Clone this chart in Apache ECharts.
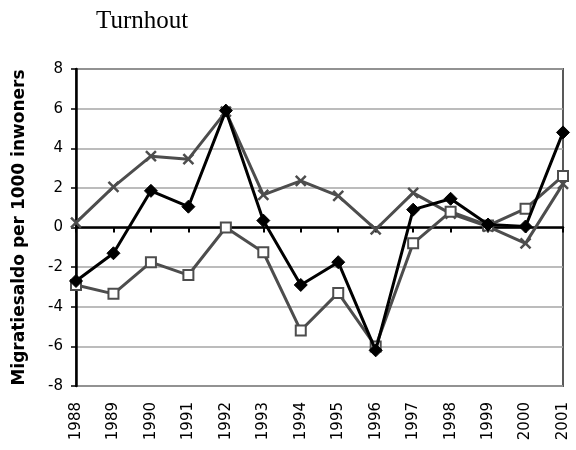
<!DOCTYPE html>
<html><head><meta charset="utf-8">
<script src="https://cdn.jsdelivr.net/npm/echarts@6/dist/echarts.min.js"></script>
<style>html,body{margin:0;padding:0;background:#fff}#c{width:576px;height:450px}</style>
</head><body><div id="c"></div>
<script>
var years = ['1988','1989','1990','1991','1992','1993','1994','1995','1996','1997','1998','1999','2000','2001'];
var seriesDiamond = [-2.7, -1.3, 1.85, 1.05, 5.9, 0.35, -2.9, -1.75, -6.2, 0.9, 1.45, 0.15, 0.05, 4.8];
var seriesSquare = [-2.9, -3.35, -1.75, -2.4, 0.0, -1.25, -5.2, -3.3, -6.0, -0.8, 0.8, 0.1, 0.95, 2.6];
var seriesCross = [0.25, 2.05, 3.6, 3.45, 5.85, 1.65, 2.35, 1.6, -0.1, 1.75, 0.7, 0.05, -0.8, 2.2];
var yTicks = [-8, 8, 2];

var chart = echarts.init(document.getElementById('c'), null, {renderer: 'canvas'});
var crossPath = 'path://M0,0L10,10M10,0L0,10';
chart.setOption({
  animation: false,
  title: {text: 'Turnhout', left: 91, top: 4, textStyle: {fontFamily: 'Liberation Serif', fontWeight: 'normal', fontSize: 25, color: '#000'}},
  grid: {left: 76, right: 13, top: 69, bottom: 64, show: true, borderColor: '#595959', borderWidth: 2},
  xAxis: [{
    type: 'category', data: years, boundaryGap: false,
    axisLine: {onZero: true, lineStyle: {color: '#000', width: 2.5}},
    axisTick: {show: true, inside: false, length: 5, lineStyle: {color: '#000', width: 2}},
    axisLabel: {show: false}, splitLine: {show: false}
  }, {
    type: 'category', data: years, boundaryGap: false, position: 'bottom',
    axisLine: {show: false, onZero: false}, axisTick: {show: false},
    axisLabel: {rotate: 90, fontFamily: 'DejaVu Sans', fontSize: 15, color: '#000', margin: 16, interval: 0},
    splitLine: {show: false}
  }],
  yAxis: {
    type: 'value', min: yTicks[0], max: yTicks[1], interval: yTicks[2],
    name: 'Migratiesaldo per 1000 inwoners', nameLocation: 'middle', nameGap: 48, nameRotate: 90,
    nameTextStyle: {fontFamily: 'DejaVu Sans', fontWeight: 'bold', fontSize: 17, color: '#000'},
    axisLine: {show: true, lineStyle: {color: '#000', width: 2.5}},
    axisTick: {show: true, length: 5, lineStyle: {color: '#000', width: 1.5}},
    axisLabel: {fontFamily: 'DejaVu Sans', fontSize: 15, color: '#000', margin: 13},
    splitLine: {show: true, lineStyle: {color: '#a6a6a6', width: 1.5}}
  },
  series: [{
    name: 'cross', type: 'line', data: seriesCross, xAxisIndex: 0,
    symbol: crossPath, symbolSize: 10, showAllSymbol: true,
    lineStyle: {color: '#4d4d4d', width: 3},
    itemStyle: {color: 'none', borderColor: '#4d4d4d', borderWidth: 2.5}, z: 2
  }, {
    name: 'square', type: 'line', data: seriesSquare, xAxisIndex: 0,
    symbol: 'rect', symbolSize: 10, showAllSymbol: true,
    lineStyle: {color: '#4d4d4d', width: 3},
    itemStyle: {color: '#fff', borderColor: '#4d4d4d', borderWidth: 2}, z: 3
  }, {
    name: 'diamond', type: 'line', data: seriesDiamond, xAxisIndex: 0,
    symbol: 'diamond', symbolSize: 13, showAllSymbol: true,
    lineStyle: {color: '#000', width: 3},
    itemStyle: {color: '#000', borderColor: '#000', borderWidth: 1}, z: 4
  }]
});
</script></body></html>
